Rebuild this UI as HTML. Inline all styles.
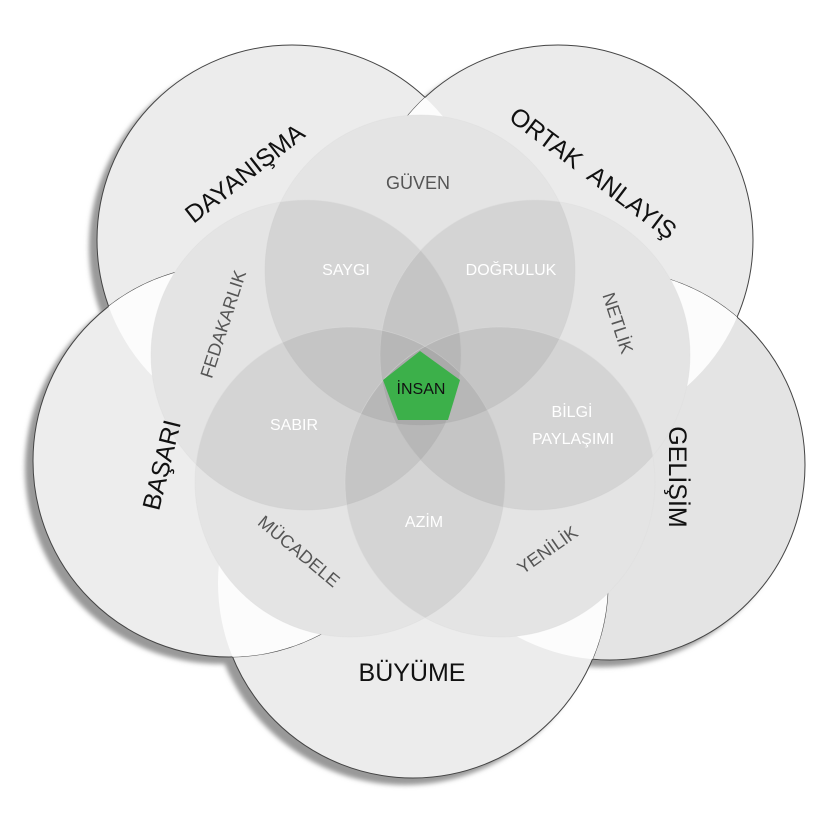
<!DOCTYPE html>
<html><head><meta charset="utf-8"><style>
html,body{margin:0;padding:0;background:#fff;width:835px;height:824px;overflow:hidden}
text{font-family:"Liberation Sans",sans-serif}
</style></head><body>
<svg width="835" height="824" viewBox="0 0 835 824" xmlns="http://www.w3.org/2000/svg">
<defs>
<filter id="sh" x="-20%" y="-20%" width="140%" height="140%"><feGaussianBlur stdDeviation="2.5"/></filter>
<clipPath id="cTL"><circle cx="292" cy="240" r="195"/></clipPath>
<clipPath id="cTR"><circle cx="558" cy="240" r="195"/></clipPath>
<clipPath id="cR"><circle cx="610" cy="465" r="195"/></clipPath>
<clipPath id="cB"><circle cx="413" cy="583" r="195"/></clipPath>
<clipPath id="cL"><circle cx="229" cy="461" r="196"/></clipPath>
</defs>
<g fill="#999" filter="url(#sh)">
<circle cx="284" cy="247" r="195"/>
<circle cx="550" cy="247" r="195"/>
<circle cx="602" cy="472" r="195"/>
<circle cx="405" cy="590" r="195"/>
<circle cx="221" cy="468" r="196"/>
</g>
<g stroke="#444" stroke-width="1">
<circle cx="292" cy="240" r="195" fill="#ececec"/>
<circle cx="558" cy="240" r="195" fill="#ebebeb"/>
<circle cx="610" cy="465" r="195" fill="#e4e4e4"/>
<circle cx="413" cy="583" r="195" fill="#ececec"/>
<circle cx="229" cy="461" r="196" fill="#ededed"/>
</g>
<g fill="#fcfcfc">
<circle cx="558" cy="240" r="195" clip-path="url(#cTL)"/>
<circle cx="610" cy="465" r="195" clip-path="url(#cTR)"/>
<circle cx="413" cy="583" r="195" clip-path="url(#cR)"/>
<circle cx="229" cy="461" r="196" clip-path="url(#cB)"/>
<circle cx="292" cy="240" r="195" clip-path="url(#cL)"/>
</g>
<g fill="#f5f5f5">
<circle cx="420" cy="270" r="155"/>
<circle cx="306" cy="355" r="155"/>
<circle cx="535" cy="355" r="155"/>
<circle cx="350" cy="482" r="155"/>
<circle cx="500" cy="482" r="155"/>
</g>
<g fill="#000" fill-opacity="0.065" stroke="#ddd" stroke-opacity="0.5" stroke-width="0.8">
<circle cx="420" cy="270" r="155"/>
<circle cx="306" cy="355" r="155"/>
<circle cx="535" cy="355" r="155"/>
<circle cx="350" cy="482" r="155"/>
<circle cx="500" cy="482" r="155"/>
</g>
<polygon points="420,351 460,380 448,420 398,420 383,380" fill="#3cb04a"/>
<text x="421" y="394" font-size="16" text-anchor="middle" fill="#111">İNSAN</text>

<g font-size="25" fill="#111" text-anchor="middle">
<text transform="translate(250,180) rotate(-38)">DAYANIŞMA</text>
<text transform="translate(588,180) rotate(37)" word-spacing="8">ORTAK ANLAYIŞ</text>
<text transform="translate(669,477) rotate(90)">GELİŞİM</text>
<text transform="translate(170,467) rotate(-76)">BAŞARI</text>
<text x="412" y="681">BÜYÜME</text>
</g>
<g font-size="18" fill="#555" text-anchor="middle">
<text x="418" y="189">GÜVEN</text>
<text transform="translate(229,326) rotate(-72)">FEDAKARLIK</text>
<text transform="translate(612,325) rotate(72)">NETLİK</text>
<text transform="translate(295,556) rotate(40)">MÜCADELE</text>
<text transform="translate(551,555) rotate(-35)">YENİLİK</text>
</g>
<g font-size="16" fill="#fff" text-anchor="middle">
<text x="346" y="275">SAYGI</text>
<text x="511" y="275">DOĞRULUK</text>
<text x="294" y="430">SABIR</text>
<text x="572" y="417">BİLGİ</text>
<text x="573" y="444">PAYLAŞIMI</text>
<text x="424" y="527">AZİM</text>
</g>
</svg>
</body></html>
